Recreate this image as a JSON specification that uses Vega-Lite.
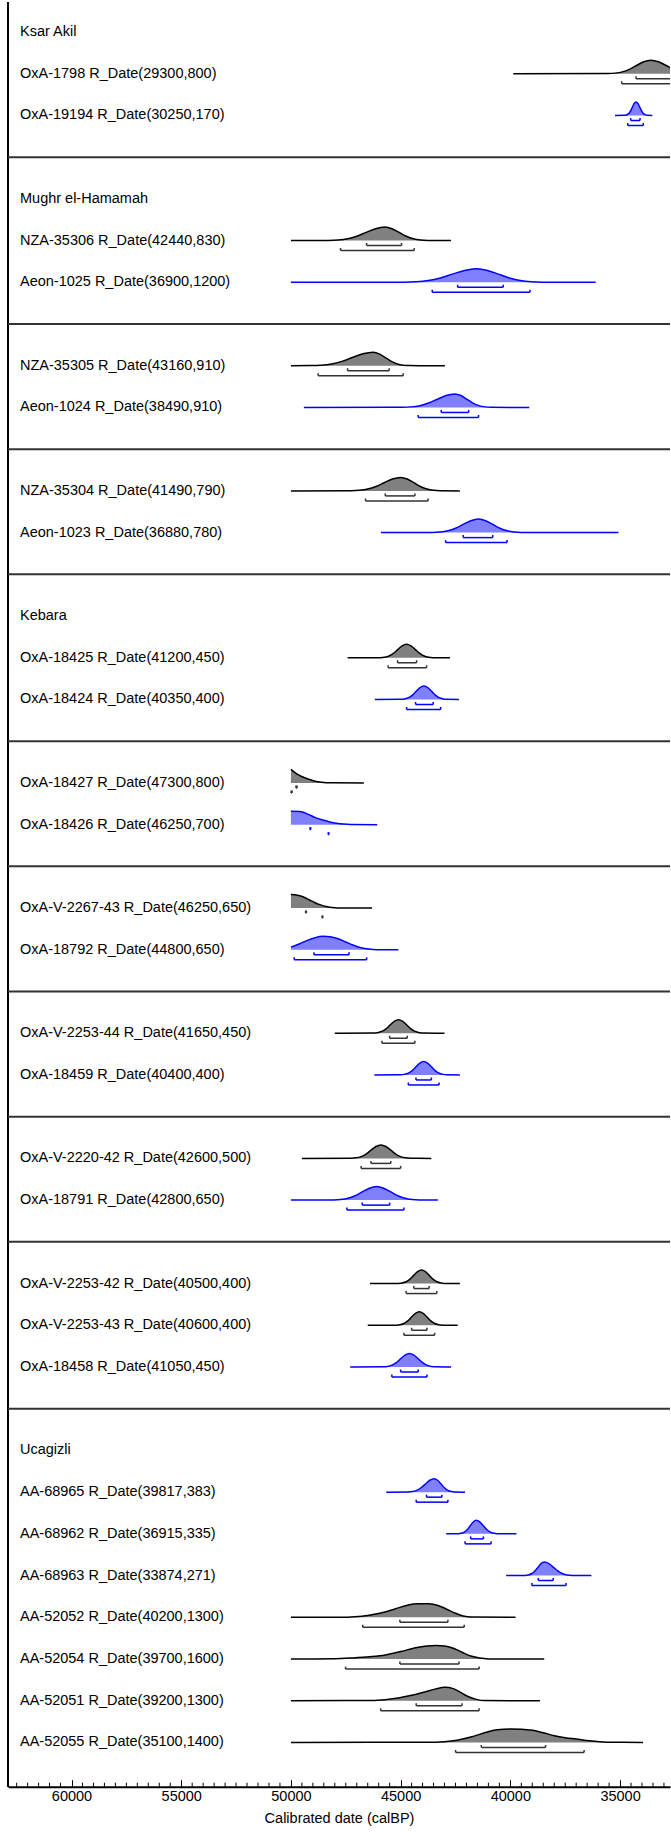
{
"$schema": "https://vega.github.io/schema/vega-lite/v6.json",
"padding": {"left": 7, "top": 0, "right": 0, "bottom": 0},
"autosize": {"type": "pad"},
"width": 662,
"height": 1785.7,
"config": {"view": {"stroke": null}, "font": "Liberation Sans", "axisX": {"labelOverlap": false}},
"data": {"values": [
{"slot":0,"kind":"g","label":"Ksar Akil"},
{"slot":1,"kind":"s","col":"k","label":"OxA-1798 R_Date(29300,800)","a1":34273,"b1":32500,"a2":34925,"b2":32000,"d":[39870,35550,35225,34900,34575,34250,33925,33600,33250,32900,32550,32200,31850,31500,31000],"p":[0,0.01,0.044,0.135,0.325,0.607,0.882,1,0.882,0.607,0.325,0.135,0.044,0.01,0]},
{"slot":2,"kind":"s","col":"b","label":"OxA-19194 R_Date(30250,170)","a1":34514,"b1":34090,"a2":34650,"b2":33940,"d":[35230,34780,34695,34610,34525,34440,34355,34270,34185,34100,34015,33930,33845,33760,33529],"p":[0,0.01,0.044,0.135,0.325,0.607,0.882,1,0.882,0.607,0.325,0.135,0.044,0.01,0]},
{"slot":3,"kind":"sep"},
{"slot":4,"kind":"g","label":"Mughr el-Hamamah"},
{"slot":5,"kind":"s","col":"k","label":"NZA-35306 R_Date(42440,830)","a1":46553,"b1":44957,"a2":47738,"b2":44382,"d":[50000,48270,47845,47420,46995,46570,46145,45720,45395,45070,44745,44420,44095,43770,42708],"p":[0,0.01,0.044,0.135,0.325,0.607,0.882,1,0.882,0.607,0.325,0.135,0.044,0.01,0]},
{"slot":6,"kind":"s","col":"b","label":"Aeon-1025 R_Date(36900,1200)","a1":42403,"b1":40324,"a2":43561,"b2":39106,"d":[50000,44840,44290,43740,43190,42640,42090,41540,41040,40540,40040,39540,39040,38540,36110],"p":[0,0.01,0.044,0.135,0.325,0.607,0.882,1,0.882,0.607,0.325,0.135,0.044,0.01,0]},
{"slot":7,"kind":"sep"},
{"slot":8,"kind":"s","col":"k","label":"NZA-35305 R_Date(43160,910)","a1":47419,"b1":45522,"a2":48760,"b2":44884,"d":[50000,49100,48625,48150,47675,47200,46725,46250,45975,45700,45425,45150,44875,44600,42982],"p":[0,0.01,0.044,0.135,0.325,0.607,0.882,1,0.882,0.607,0.325,0.135,0.044,0.01,0]},
{"slot":9,"kind":"s","col":"b","label":"Aeon-1024 R_Date(38490,910)","a1":43150,"b1":41900,"a2":44200,"b2":41450,"d":[49412,44926,44526,44126,43726,43326,42926,42526,42251,41976,41701,41426,41151,40876,39138],"p":[0,0.01,0.044,0.135,0.325,0.607,0.882,1,0.882,0.607,0.325,0.135,0.044,0.01,0]},
{"slot":10,"kind":"sep"},
{"slot":11,"kind":"s","col":"k","label":"NZA-35304 R_Date(41490,790)","a1":45700,"b1":44350,"a2":46600,"b2":43750,"d":[50000,47250,46875,46500,46125,45750,45375,45000,44700,44400,44100,43800,43500,43200,42300],"p":[0,0.01,0.044,0.135,0.325,0.607,0.882,1,0.882,0.607,0.325,0.135,0.044,0.01,0]},
{"slot":12,"kind":"s","col":"b","label":"Aeon-1023 R_Date(36880,780)","a1":42150,"b1":40800,"a2":42950,"b2":40150,"d":[45900,43550,43200,42850,42500,42150,41800,41450,41125,40800,40475,40150,39825,39500,35075],"p":[0,0.01,0.044,0.135,0.325,0.607,0.882,1,0.882,0.607,0.325,0.135,0.044,0.01,0]},
{"slot":13,"kind":"sep"},
{"slot":14,"kind":"g","label":"Kebara"},
{"slot":15,"kind":"s","col":"k","label":"OxA-18425 R_Date(41200,450)","a1":45139,"b1":44273,"a2":45568,"b2":43817,"d":[47419,45929,45729,45529,45329,45129,44929,44729,44529,44329,44129,43929,43729,43529,42754],"p":[0,0.01,0.044,0.135,0.325,0.607,0.882,1,0.882,0.607,0.325,0.135,0.044,0.01,0]},
{"slot":16,"kind":"s","col":"b","label":"OxA-18424 R_Date(40350,400)","a1":44318,"b1":43516,"a2":44729,"b2":43178,"d":[46174,44990,44815,44640,44465,44290,44115,43940,43765,43590,43415,43240,43065,42890,42343],"p":[0,0.01,0.044,0.135,0.325,0.607,0.882,1,0.882,0.607,0.325,0.135,0.044,0.01,0]},
{"slot":17,"kind":"sep"},
{"slot":18,"kind":"s","col":"k","label":"OxA-18427 R_Date(47300,800)","a1":49770,"b1":49720,"a2":49990,"b2":49950,"d":[50000,49800,49600,49400,49150,48900,48600,48200,46676],"p":[1,0.75,0.55,0.4,0.25,0.13,0.05,0.01,0]},
{"slot":19,"kind":"s","col":"b","label":"OxA-18426 R_Date(46250,700)","a1":49130,"b1":49100,"a2":48300,"b2":48270,"d":[50000,49600,49400,49150,48850,48550,48270,47920,47600,47300,46069],"p":[1,0.98,0.9,0.72,0.5,0.35,0.22,0.1,0.04,0.01,0]},
{"slot":20,"kind":"sep"},
{"slot":21,"kind":"s","col":"k","label":"OxA-V-2267-43 R_Date(46250,650)","a1":49330,"b1":49300,"a2":48580,"b2":48550,"d":[50000,49700,49400,49150,48900,48650,48400,48150,47900,46300],"p":[1,0.95,0.8,0.6,0.4,0.24,0.12,0.05,0.01,0]},
{"slot":22,"kind":"s","col":"b","label":"OxA-18792 R_Date(44800,650)","a1":48950,"b1":47350,"a2":49850,"b2":46550,"d":[50000,49600,49250,48900,48550,48200,47850,47500,47150,46800,46450,46100,45100],"p":[0.2,0.45,0.7,0.9,1,0.97,0.82,0.58,0.34,0.16,0.06,0.01,0]},
{"slot":23,"kind":"sep"},
{"slot":24,"kind":"s","col":"k","label":"OxA-V-2253-44 R_Date(41650,450)","a1":45500,"b1":44700,"a2":45850,"b2":44350,"d":[48000,46240,46050,45860,45670,45480,45290,45100,44910,44720,44530,44340,44150,43960,43000],"p":[0,0.01,0.044,0.135,0.325,0.607,0.882,1,0.882,0.607,0.325,0.135,0.044,0.01,0]},
{"slot":25,"kind":"s","col":"b","label":"OxA-18459 R_Date(40400,400)","a1":44300,"b1":43600,"a2":44650,"b2":43250,"d":[46200,45000,44825,44650,44475,44300,44125,43950,43775,43600,43425,43250,43075,42900,42300],"p":[0,0.01,0.044,0.135,0.325,0.607,0.882,1,0.882,0.607,0.325,0.135,0.044,0.01,0]},
{"slot":26,"kind":"sep"},
{"slot":27,"kind":"s","col":"k","label":"OxA-V-2220-42 R_Date(42600,500)","a1":46350,"b1":45450,"a2":46800,"b2":45000,"d":[49500,47250,47025,46800,46575,46350,46125,45900,45675,45450,45225,45000,44775,44550,43600],"p":[0,0.01,0.044,0.135,0.325,0.607,0.882,1,0.882,0.607,0.325,0.135,0.044,0.01,0]},
{"slot":28,"kind":"s","col":"b","label":"OxA-18791 R_Date(42800,650)","a1":46750,"b1":45500,"a2":47450,"b2":44850,"d":[50000,48050,47725,47400,47075,46750,46425,46100,45775,45450,45125,44800,44475,44150,43300],"p":[0,0.01,0.044,0.135,0.325,0.607,0.882,1,0.882,0.607,0.325,0.135,0.044,0.01,0]},
{"slot":29,"kind":"sep"},
{"slot":30,"kind":"s","col":"k","label":"OxA-V-2253-42 R_Date(40500,400)","a1":44400,"b1":43700,"a2":44750,"b2":43350,"d":[46400,45100,44925,44750,44575,44400,44225,44050,43875,43700,43525,43350,43175,43000,42300],"p":[0,0.01,0.044,0.135,0.325,0.607,0.882,1,0.882,0.607,0.325,0.135,0.044,0.01,0]},
{"slot":31,"kind":"s","col":"k","label":"OxA-V-2253-43 R_Date(40600,400)","a1":44500,"b1":43800,"a2":44850,"b2":43450,"d":[46500,45200,45025,44850,44675,44500,44325,44150,43975,43800,43625,43450,43275,43100,42400],"p":[0,0.01,0.044,0.135,0.325,0.607,0.882,1,0.882,0.607,0.325,0.135,0.044,0.01,0]},
{"slot":32,"kind":"s","col":"b","label":"OxA-18458 R_Date(41050,450)","a1":45000,"b1":44200,"a2":45400,"b2":43800,"d":[47300,45800,45600,45400,45200,45000,44800,44600,44400,44200,44000,43800,43600,43400,42700],"p":[0,0.01,0.044,0.135,0.325,0.607,0.882,1,0.882,0.607,0.325,0.135,0.044,0.01,0]},
{"slot":33,"kind":"sep"},
{"slot":34,"kind":"g","label":"Ucagizli"},
{"slot":35,"kind":"s","col":"b","label":"AA-68965 R_Date(39817,383)","a1":43821,"b1":43119,"a2":44291,"b2":42845,"d":[45654,44670,44470,44270,44070,43870,43670,43470,43315,43160,43005,42850,42695,42540,42065],"p":[0,0.01,0.044,0.135,0.325,0.607,0.882,1,0.882,0.607,0.325,0.135,0.044,0.01,0]},
{"slot":36,"kind":"s","col":"b","label":"AA-68962 R_Date(36915,335)","a1":41810,"b1":41227,"a2":42065,"b2":40876,"d":[42923,42365,42230,42095,41960,41825,41690,41555,41395,41235,41075,40915,40755,40595,39722],"p":[0,0.01,0.044,0.135,0.325,0.607,0.882,1,0.882,0.607,0.325,0.135,0.044,0.01,0]},
{"slot":37,"kind":"s","col":"b","label":"AA-68963 R_Date(33874,271)","a1":38728,"b1":38044,"a2":39020,"b2":37460,"d":[40191,39324,39179,39034,38889,38744,38599,38454,38244,38034,37824,37614,37404,37194,36306],"p":[0,0.01,0.044,0.135,0.325,0.607,0.882,1,0.882,0.607,0.325,0.135,0.044,0.01,0]},
{"slot":38,"kind":"s","col":"k","label":"AA-52052 R_Date(40200,1300)","a1":45034,"b1":42845,"a2":46726,"b2":42102,"d":[50000,47700,47100,46500,45900,45300,44700,44200,43700,43300,42900,42500,42150,41800,39763],"p":[0,0.01,0.05,0.14,0.32,0.6,0.9,1,1,0.88,0.6,0.3,0.1,0.02,0]},
{"slot":39,"kind":"s","col":"k","label":"AA-52054 R_Date(39700,1600)","a1":45034,"b1":42339,"a2":47510,"b2":41423,"d":[50000,48000,47200,46400,45700,45000,44400,43800,43370,43000,42600,42200,41800,41400,41000,38454],"p":[0,0.02,0.08,0.17,0.3,0.55,0.8,0.97,1,0.97,0.8,0.5,0.22,0.07,0.01,0]},
{"slot":40,"kind":"s","col":"k","label":"AA-52051 R_Date(39200,1300)","a1":44291,"b1":42202,"a2":45910,"b2":41423,"d":[50000,46300,45700,45100,44500,43900,43400,42980,42600,42250,41900,41550,41200,38650],"p":[0,0.02,0.08,0.2,0.4,0.65,0.88,1,0.9,0.6,0.3,0.1,0.01,0]},
{"slot":41,"kind":"s","col":"k","label":"AA-52055 R_Date(35100,1400)","a1":41322,"b1":38395,"a2":42495,"b2":36639,"d":[50000,43400,42600,41800,41100,40600,40000,39500,39000,38500,38000,37500,37000,36400,35600,33949],"p":[0,0.02,0.12,0.4,0.75,0.95,1,0.98,0.9,0.72,0.5,0.35,0.25,0.12,0.02,0]}
]},
"layer": [
{"transform": [{"filter": "datum.kind === 's'"}, {"flatten": ["d", "p"]}, {"calculate": "datum.slot - 0.3236 * datum.p", "as": "top"}],
 "mark": {"type": "area", "clip": true, "interpolate": "monotone"},
 "encoding": {
  "x": {"field": "d", "type": "quantitative",
   "scale": {"domain": [32724, 62894], "reverse": true, "nice": false, "zero": false},
   "axis": {"title": "Calibrated date (calBP)", "grid": false,
    "values": [35000, 40000, 45000, 50000, 55000, 60000],
    "format": "d",
    "tickSize": -7,
    "tickColor": "black", "tickWidth": 1,
    "domainColor": "black", "domainWidth": 2,
    "labelFont": "Liberation Sans", "labelFontSize": 14.5, "labelColor": "black",
    "labelPadding": 9.6, "labelOverlap": false, "labelFlush": false,
    "titleFont": "Liberation Sans", "titleFontSize": 14.5, "titleFontWeight": "normal", "titleColor": "black",
    "titlePadding": 9}},
  "y": {"field": "top", "type": "quantitative", "scale": {"domain": [-0.743, 42.06], "reverse": true, "nice": false, "zero": false}, "axis": null},
  "y2": {"field": "slot"},
  "detail": {"field": "slot", "type": "nominal"},
  "fill": {"field": "col", "type": "nominal", "scale": {"domain": ["k", "b"], "range": ["#808080", "#8080ff"]}, "legend": null}}},
{"data": {"values": [33000,33500,34000,34500,35500,36000,36500,37000,37500,38000,38500,39000,39500,40500,41000,41500,42000,42500,43000,43500,44000,44500,45500,46000,46500,47000,47500,48000,48500,49000,49500,50500,51000,51500,52000,52500,53000,53500,54000,54500,55500,56000,56500,57000,57500,58000,58500,59000,59500,60500,61000,61500,62000,62500]},
 "mark": {"type": "rule", "stroke": "black", "strokeWidth": 1, "yOffset": -4},
 "encoding": {"x": {"field": "data", "type": "quantitative"}, "y": {"datum": 42.06, "type": "quantitative", "axis": null}, "y2": {"datum": 42.06}}},
{"mark": {"type": "rule", "stroke": "black", "strokeWidth": 2},
 "encoding": {"x": {"datum": 62894, "type": "quantitative"}, "y": {"datum": -0.72, "type": "quantitative", "axis": null}, "y2": {"datum": 42.06}}},
{"transform": [{"filter": "datum.kind === 'sep'"}],
 "mark": {"type": "rule", "stroke": "#333333", "strokeWidth": 2},
 "encoding": {"x": {"datum": 62894, "type": "quantitative"}, "x2": {"datum": 32724}, "y": {"field": "slot", "type": "quantitative", "axis": null}}},
{"transform": [{"filter": "datum.kind !== 'sep'"}],
 "mark": {"type": "text", "align": "left", "baseline": "middle", "fontSize": 14.5, "font": "Liberation Sans", "color": "black"},
 "encoding": {"x": {"datum": 62347, "type": "quantitative"}, "y": {"field": "slot", "type": "quantitative", "axis": null}, "text": {"field": "label", "type": "nominal"}}},
{"transform": [{"filter": "datum.kind === 's'"}, {"flatten": ["d", "p"]}, {"calculate": "datum.slot - 0.3236 * datum.p", "as": "top"}],
 "mark": {"type": "line", "clip": true, "interpolate": "monotone", "strokeWidth": 1.5},
 "encoding": {
  "x": {"field": "d", "type": "quantitative"},
  "y": {"field": "top", "type": "quantitative", "axis": null},
  "detail": {"field": "slot", "type": "nominal"},
  "stroke": {"field": "col", "type": "nominal", "scale": {"domain": ["k", "b"], "range": ["#000000", "#0000ff"]}, "legend": null}}},
{"transform": [{"filter": "datum.kind === 's'"}],
 "mark": {"type": "rule", "clip": true, "strokeWidth": 1.5, "yOffset": 5},
 "encoding": {"x": {"field": "a1", "type": "quantitative"}, "x2": {"field": "b1"}, "y": {"field": "slot", "type": "quantitative", "axis": null},
  "color": {"field": "col", "type": "nominal", "scale": {"domain": ["k", "b"], "range": ["#333333", "#0000ff"]}, "legend": null}}},
{"transform": [{"filter": "datum.kind === 's'"}],
 "mark": {"type": "rule", "clip": true, "strokeWidth": 1.5, "yOffset": 2.5, "y2Offset": 5},
 "encoding": {"x": {"field": "a1", "type": "quantitative"}, "y": {"field": "slot", "type": "quantitative", "axis": null}, "y2": {"field": "slot"},
  "color": {"field": "col", "type": "nominal", "legend": null}}},
{"transform": [{"filter": "datum.kind === 's'"}],
 "mark": {"type": "rule", "clip": true, "strokeWidth": 1.5, "yOffset": 2.5, "y2Offset": 5},
 "encoding": {"x": {"field": "b1", "type": "quantitative"}, "y": {"field": "slot", "type": "quantitative", "axis": null}, "y2": {"field": "slot"},
  "color": {"field": "col", "type": "nominal", "legend": null}}},
{"transform": [{"filter": "datum.kind === 's'"}],
 "mark": {"type": "rule", "clip": true, "strokeWidth": 1.5, "yOffset": 10},
 "encoding": {"x": {"field": "a2", "type": "quantitative"}, "x2": {"field": "b2"}, "y": {"field": "slot", "type": "quantitative", "axis": null},
  "color": {"field": "col", "type": "nominal", "legend": null}}},
{"transform": [{"filter": "datum.kind === 's'"}],
 "mark": {"type": "rule", "clip": true, "strokeWidth": 1.5, "yOffset": 7.5, "y2Offset": 10},
 "encoding": {"x": {"field": "a2", "type": "quantitative"}, "y": {"field": "slot", "type": "quantitative", "axis": null}, "y2": {"field": "slot"},
  "color": {"field": "col", "type": "nominal", "legend": null}}},
{"transform": [{"filter": "datum.kind === 's'"}],
 "mark": {"type": "rule", "clip": true, "strokeWidth": 1.5, "yOffset": 7.5, "y2Offset": 10},
 "encoding": {"x": {"field": "b2", "type": "quantitative"}, "y": {"field": "slot", "type": "quantitative", "axis": null}, "y2": {"field": "slot"},
  "color": {"field": "col", "type": "nominal", "legend": null}}}
]
}
